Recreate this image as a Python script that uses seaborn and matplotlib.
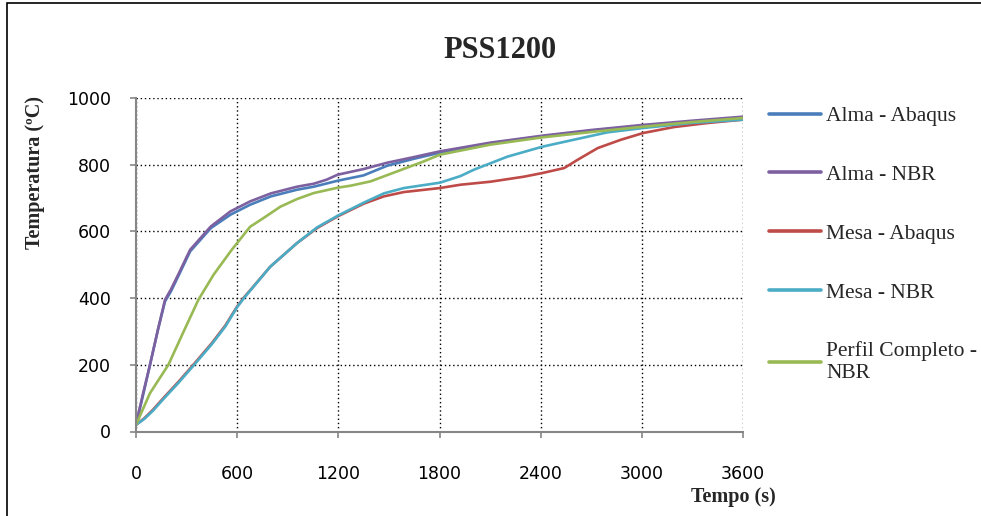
import matplotlib
matplotlib.use("Agg")
import matplotlib.pyplot as plt
import seaborn as sns
import pandas as pd
from matplotlib.patches import Rectangle

# ---- data ----
alma_abaqus_t = [0, 40, 83, 130, 172, 207, 250, 321, 444, 560, 677, 800, 955, 1054, 1196, 1350, 1490, 1650, 1802, 2100, 2410, 2700, 3000, 3300, 3600]
alma_abaqus_T = [20, 105, 200, 305, 390, 420, 465, 540, 610, 650, 680, 705, 725, 734, 752, 768, 797, 818, 836, 864, 885, 902, 917, 929, 940]

alma_nbr_t = [0, 40, 83, 130, 172, 207, 250, 321, 444, 560, 677, 800, 955, 1054, 1130, 1196, 1350, 1490, 1650, 1802, 2100, 2410, 2700, 3000, 3300, 3600]
alma_nbr_T = [20, 110, 200, 305, 395, 426, 470, 545, 615, 660, 690, 714, 734, 743, 755, 770, 787, 806, 823, 840, 866, 887, 904, 919, 932, 944]

mesa_abaqus_t = [0, 50, 100, 162, 250, 340, 450, 530, 600, 637, 700, 796, 955, 1074, 1196, 1350, 1470, 1589, 1802, 1925, 2103, 2300, 2410, 2540, 2620, 2739, 2877, 3008, 3192, 3390, 3600]
mesa_abaqus_T = [20, 40, 65, 100, 148, 200, 265, 318, 375, 400, 437, 494, 565, 610, 645, 683, 705, 718, 730, 740, 749, 764, 775, 790, 815, 850, 875, 895, 913, 925, 935]

mesa_nbr_t = [0, 50, 100, 162, 250, 340, 450, 530, 600, 637, 700, 796, 955, 1074, 1196, 1350, 1470, 1589, 1802, 1925, 2004, 2202, 2410, 2598, 2796, 3008, 3291, 3600]
mesa_nbr_T = [20, 38, 62, 97, 145, 197, 262, 315, 373, 398, 436, 494, 565, 612, 647, 686, 714, 730, 746, 766, 785, 824, 854, 875, 897, 910, 925, 935]

perfil_t = [0, 83, 192, 280, 370, 460, 568, 677, 756, 856, 955, 1054, 1196, 1272, 1391, 1549, 1707, 1802, 2100, 2410, 2700, 3008, 3300, 3600]
perfil_T = [20, 115, 200, 297, 395, 470, 545, 614, 640, 674, 697, 715, 731, 737, 750, 780, 810, 830, 860, 882, 898, 914, 928, 940]

series_names = ["Alma - Abaqus", "Alma - NBR", "Mesa - Abaqus", "Mesa - NBR", "Perfil Completo -\nNBR"]
series_colors = ["#4A7EBB", "#7D60A0", "#BE4B48", "#4BACC6", "#98B954"]
x_ticks = [0, 600, 1200, 1800, 2400, 3000, 3600]
y_ticks = [0, 200, 400, 600, 800, 1000]

frames = []
for name, t, T in zip(series_names,
                      [alma_abaqus_t, alma_nbr_t, mesa_abaqus_t, mesa_nbr_t, perfil_t],
                      [alma_abaqus_T, alma_nbr_T, mesa_abaqus_T, mesa_nbr_T, perfil_T]):
    frames.append(pd.DataFrame({"Tempo": t, "Temp": T, "Serie": name}))
df = pd.concat(frames, ignore_index=True)

sns.set_theme(style="white")
plt.rcParams["font.family"] = ["DejaVu Sans"]

W, H = 981, 516
fig = plt.figure(figsize=(W / 100, H / 100), dpi=100)
ax = fig.add_axes([136 / W, 1 - 431.5 / H, (743 - 136) / W, (431.5 - 98) / H])

sns.lineplot(data=df, x="Tempo", y="Temp", hue="Serie", hue_order=series_names,
             palette=series_colors, estimator=None, sort=False, linewidth=1.9, ax=ax)

ax.set_xlim(0, 3600)
ax.set_ylim(0, 1000)
ax.set_xticks(x_ticks)
ax.set_yticks(y_ticks)
ax.set_xticklabels([str(v) for v in x_ticks])
ax.set_yticklabels([str(v) for v in y_ticks])
ax.grid(True, color="black", linestyle=(0, (1, 2)), linewidth=1.0)
ax.set_axisbelow(True)
for s in ["top", "right"]:
    ax.spines[s].set_visible(False)
for s in ["left", "bottom"]:
    ax.spines[s].set_color("#868686")
    ax.spines[s].set_linewidth(1.5)
ax.tick_params(axis="both", direction="out", length=4, width=1.2, color="#868686",
               labelsize=12.5, labelcolor="black")
ax.tick_params(axis="x", pad=20, bottom=True)
ax.tick_params(axis="y", pad=14, left=True)
ax.set_xlabel("")
ax.set_ylabel("")

serif = ["Liberation Serif", "DejaVu Serif"]
fig.text(500 / W, 1 - 50 / H, "PSS1200", ha="center", va="center",
         fontsize=22, fontweight="bold", family=serif)
fig.text(35 / W, 1 - 173 / H, "Temperatura (ºC)", rotation=90, ha="center", va="center",
         fontsize=14.5, fontweight="bold", family=serif)
fig.text(733 / W, 1 - 497 / H, "Tempo (s)", ha="center", va="center",
         fontsize=14.5, fontweight="bold", family=serif)

leg = ax.legend(loc="upper left", bbox_to_anchor=(769 / W, 1 - 106 / H),
                bbox_transform=fig.transFigure, frameon=False,
                prop={"family": serif, "size": 15.5},
                handlelength=2.4, handletextpad=0.25, labelspacing=1.8,
                borderaxespad=0, borderpad=0)
for line in leg.get_lines():
    line.set_linewidth(2.6)

fig.patches.append(Rectangle((7 / W, -0.05), 1.2, (1 - 3 / H) + 0.05,
                             transform=fig.transFigure, fill=False,
                             edgecolor="black", linewidth=1.2))

fig.savefig("out.png", dpi=100)
